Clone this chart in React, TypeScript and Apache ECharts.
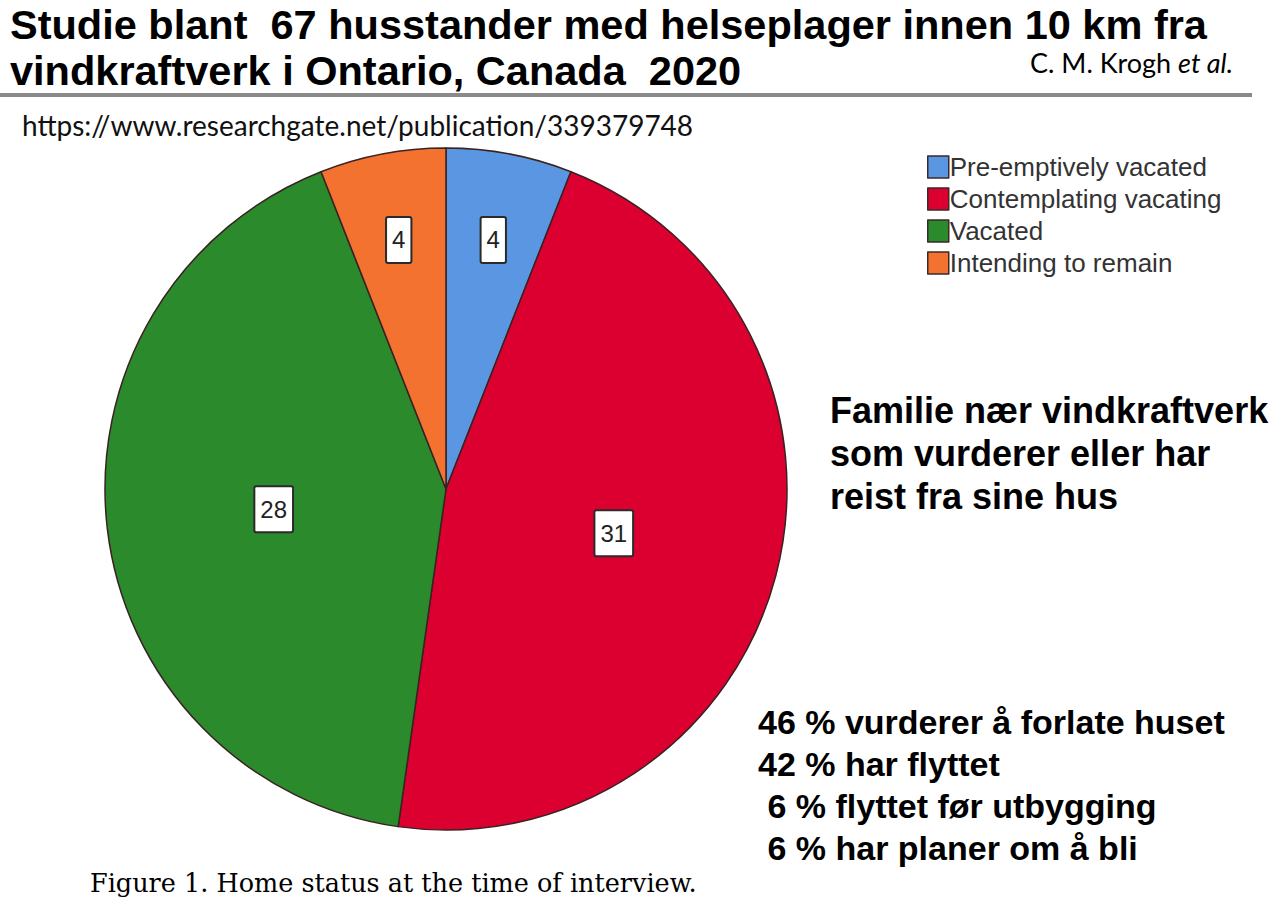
import React, { useEffect, useRef } from "react";
import * as echarts from "echarts";

const categories = [
  "Pre-emptively vacated",
  "Contemplating vacating",
  "Vacated",
  "Intending to remain",
];
const counts = [4, 31, 28, 4];
const colors = ["#5b96e2", "#dc0030", "#2b8a2c", "#f47230"];
const smallLabelNames = ["Pre-emptively vacated", "Intending to remain"];

const titleLines = [
  "Studie blant  67 husstander med helseplager innen 10 km fra",
  "vindkraftverk i Ontario, Canada  2020",
];
const sourceUrl = "https://www.researchgate.net/publication/339379748";
const sideNote = ["Familie nær vindkraftverk", "som vurderer eller har", "reist fra sine hus"];
const percentNotes = [
  "46 % vurderer å forlate huset",
  "42 % har flyttet",
  " 6 % flyttet før utbygging",
  " 6 % har planer om å bli",
];

export default function App() {
  const ref = useRef<HTMLDivElement>(null);
  useEffect(() => {
    if (!ref.current) return;
    const chart = echarts.init(ref.current, undefined, { renderer: "svg" });
    const boxLabel = {
      fontFamily: "Liberation Sans, Arial, sans-serif",
      fontSize: 24,
      color: "#222",
      backgroundColor: "#fff",
      borderColor: "#2a2a2a",
      borderWidth: 2,
      borderRadius: 1,
      padding: [11, 5, 9, 5],
    };
    const border = { borderColor: "#3a2222", borderWidth: 1.5 };
    chart.setOption({
      animation: false,
      backgroundColor: "#ffffff",
      legend: {
        orient: "vertical",
        left: 922,
        top: 149,
        icon: "rect",
        itemWidth: 21,
        itemHeight: 22,
        itemGap: 6,
        selectedMode: false,
        textStyle: {
          fontFamily: "Liberation Sans, Arial, sans-serif",
          fontSize: 26,
          color: "#333",
          padding: [0, 0, 0, -4],
        },
        data: categories.map((c, i) => ({
          name: c,
          itemStyle: { color: colors[i], borderColor: "#3a2a2a", borderWidth: 1.5 },
        })),
      },
      series: [
        {
          type: "pie",
          center: [446, 489],
          radius: [0, 341],
          startAngle: 90,
          clockwise: true,
          silent: true,
          labelLine: { show: false },
          data: categories.map((c, i) => ({
            name: c,
            value: counts[i],
            itemStyle: { color: colors[i], ...border },
            label: {
              show: !smallLabelNames.includes(c),
              position: "inside",
              formatter: "{c}",
              ...boxLabel,
            },
          })),
        },
        {
          type: "pie",
          center: [446, 489],
          radius: [160, 341],
          startAngle: 90,
          clockwise: true,
          silent: true,
          labelLine: { show: false },
          itemStyle: { color: "transparent", borderWidth: 0 },
          data: categories.map((c, i) => ({
            name: c,
            value: counts[i],
            itemStyle: { color: "rgba(0,0,0,0)", borderWidth: 0 },
            label: {
              show: smallLabelNames.includes(c),
              position: "inside",
              formatter: "{c}",
              ...boxLabel,
            },
          })),
        },
      ],
      graphic: [
        ...titleLines.map((t, i) => ({
          type: "text",
          left: 10,
          top: 3 + i * 46,
          style: {
            text: t,
            font: "bold 41.5px 'Liberation Sans', Arial, sans-serif",
            fill: "#000",
          },
        })),
        {
          type: "text",
          left: 1030,
          top: 49,
          style: {
            text: "{n|C. M. Krogh }{i|et al.}",
            rich: {
              n: { fontFamily: "Lato, sans-serif", fontSize: 27, color: "#555" },
              i: { fontFamily: "Lato, sans-serif", fontSize: 27, fontStyle: "italic", color: "#555" },
            },
          },
        },
        {
          type: "line",
          shape: { x1: 0, y1: 95, x2: 1252, y2: 95 },
          style: { stroke: "#8a8a8a", lineWidth: 4 },
        },
        {
          type: "text",
          left: 22,
          top: 111,
          style: {
            text: sourceUrl,
            font: "28px Lato, sans-serif",
            fill: "#111",
          },
        },
        ...sideNote.map((t, i) => ({
          type: "text",
          left: 830,
          top: 392 + i * 43,
          style: {
            text: t,
            font: "bold 36px 'Liberation Sans', Arial, sans-serif",
            fill: "#000",
          },
        })),
        ...percentNotes.map((t, i) => ({
          type: "text",
          left: 758,
          top: 705 + i * 42,
          style: {
            text: t,
            font: "bold 34px 'Liberation Sans', Arial, sans-serif",
            fill: "#000",
          },
        })),
        {
          type: "text",
          left: 90,
          top: 870,
          style: {
            text: "{f|Figure 1}{b|. Home status at the time of interview.}",
            rich: {
              f: { fontFamily: "'DejaVu Serif', serif", fontSize: 25.5, color: "#8b3a3a" },
              b: { fontFamily: "'DejaVu Serif', serif", fontSize: 25.5, color: "#222" },
            },
          },
        },
      ],
    });
    return () => chart.dispose();
  }, []);
  return (
    <div
      ref={ref}
      style={{ position: "fixed", left: 0, top: 0, width: 1280, height: 905 }}
    />
  );
}
